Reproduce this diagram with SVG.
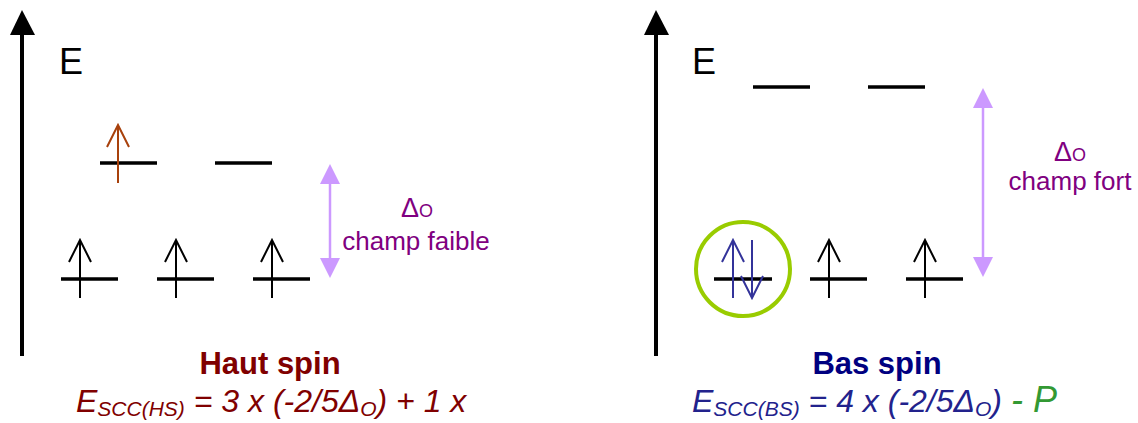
<svg xmlns="http://www.w3.org/2000/svg" xmlns:xlink="http://www.w3.org/1999/xlink" width="1138" height="423" viewBox="0 0 1138 423">
<style>
text{font-family:"Liberation Sans",Arial,sans-serif}
.axis{stroke:#000;stroke-width:4;fill:none}
.level{stroke:#000;stroke-width:3.5;fill:none}
.spin{stroke-width:2;fill:none}
.gap{stroke:#cc99ff;stroke-width:2.5;fill:none}
.lbl{fill:#800080;font-size:26px;text-anchor:middle}
.ttl{font-weight:bold;font-size:31px;text-anchor:middle}
.eq{font-style:italic;font-size:32px}
.sub{font-size:21px}
</style>
<defs>
<path id="up" d="M0,0 V58 M-11,22 L0,0 L11,22"/>
<path id="down" d="M0,0 V58 M-11,36 L0,58 L11,36"/>
<marker id="tri" viewBox="0 0 20 20" refX="0" refY="10" markerWidth="20" markerHeight="20" markerUnits="userSpaceOnUse" orient="auto-start-reverse">
<path d="M0,0 L20,10 L0,20 Z" fill="#cc99ff"/>
</marker>
</defs>

<g id="connectors">
<g id="axis-left"><line class="axis" x1="22" y1="356" x2="22" y2="33"/><polygon points="10,35 22,10 35,35" fill="#000"/></g>
<g id="axis-right"><line class="axis" x1="656" y1="356" x2="656" y2="33"/><polygon points="644,35 656,10 669,35" fill="#000"/></g>
<line id="gap-left" class="gap" x1="330" y1="184" x2="330" y2="258" marker-start="url(#tri)" marker-end="url(#tri)"/>
<line id="gap-right" class="gap" x1="983" y1="108" x2="983" y2="257" marker-start="url(#tri)" marker-end="url(#tri)"/>
</g>

<g id="E-left"><text x="59" y="74" font-size="36">E</text></g>
<g id="E-right"><text x="692" y="74" font-size="36">E</text></g>

<g id="hs-eg">
<line class="level" x1="100" y1="163" x2="157" y2="163"/>
<line class="level" x1="215" y1="163" x2="272" y2="163"/>
<use xlink:href="#up" x="118" y="125" class="spin" stroke="#a8410c"/>
</g>
<g id="hs-t2g">
<line class="level" x1="61" y1="279" x2="118" y2="279"/>
<line class="level" x1="157" y1="279" x2="214" y2="279"/>
<line class="level" x1="253" y1="279" x2="310" y2="279"/>
<use xlink:href="#up" x="80" y="240" class="spin" stroke="#000"/>
<use xlink:href="#up" x="176" y="240" class="spin" stroke="#000"/>
<use xlink:href="#up" x="272" y="240" class="spin" stroke="#000"/>
</g>
<g id="label-left">
<text class="lbl" x="417" y="217"><tspan font-size="27">Δ</tspan><tspan font-size="18">O</tspan></text>
<text class="lbl" x="416" y="250">champ faible</text>
</g>

<g id="bs-eg">
<line class="level" x1="753" y1="87" x2="810" y2="87"/>
<line class="level" x1="868" y1="87" x2="925" y2="87"/>
</g>
<g id="bs-t2g">
<line class="level" x1="714" y1="279" x2="772" y2="279"/>
<line class="level" x1="810" y1="279" x2="867" y2="279"/>
<line class="level" x1="906" y1="279" x2="963" y2="279"/>
<use xlink:href="#up" x="733" y="240" class="spin" stroke="#33339a"/>
<use xlink:href="#down" x="752" y="240" class="spin" stroke="#33339a"/>
<use xlink:href="#up" x="829" y="240" class="spin" stroke="#000"/>
<use xlink:href="#up" x="925" y="240" class="spin" stroke="#000"/>
</g>
<g id="pair-circle"><circle cx="743" cy="269" r="47" fill="none" stroke="#99cc00" stroke-width="4"/></g>
<g id="label-right">
<text class="lbl" x="1070" y="161"><tspan font-size="27">Δ</tspan><tspan font-size="18">O</tspan></text>
<text class="lbl" x="1070" y="190">champ fort</text>
</g>

<g id="title-left">
<text class="ttl" x="270" y="374" fill="#800000">Haut spin</text>
<text class="eq" x="76" y="412" fill="#800000">E<tspan class="sub" dy="4">SCC(HS)</tspan><tspan dy="-4"> = 3 x (-2/5Δ</tspan><tspan class="sub" dy="4">O</tspan><tspan dy="-4">) + 1 x</tspan></text>
</g>
<g id="title-right">
<text class="ttl" x="877" y="374" fill="#000080">Bas spin</text>
<text class="eq" x="692" y="412" fill="#22228c">E<tspan class="sub" dy="4">SCC(BS)</tspan><tspan dy="-4"> = 4 x (-2/5Δ</tspan><tspan class="sub" dy="4">O</tspan><tspan dy="-4">) </tspan><tspan fill="#339933" font-size="36">- P</tspan></text>
</g>
</svg>
